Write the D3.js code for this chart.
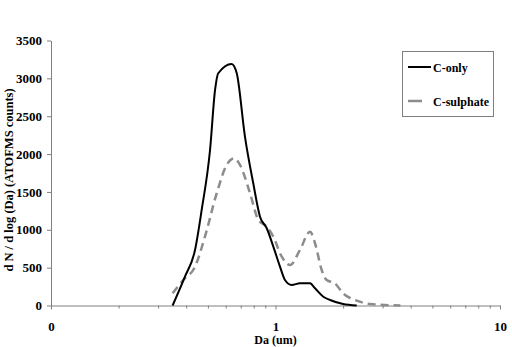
<!DOCTYPE html>
<html>
<head>
<meta charset="utf-8">
<script src="https://cdn.jsdelivr.net/npm/d3@7"></script>
<style>
  body { margin: 0; background: #fff; }
  svg text { font-family: "Liberation Serif", "Times New Roman", serif; font-weight: bold; }
  .axis path, .axis line { stroke: #808080; }
  .axis text { font-size: 13px; fill: #000; }
</style>
</head>
<body>
<svg id="chart" width="512" height="347"></svg>
<script>
// size distribution (Da in um, counts)
const onlyDa  = [0.348, 0.395, 0.438, 0.469, 0.511, 0.538, 0.556, 0.638, 0.672, 0.731, 0.796, 0.853, 0.914, 0.978, 1.047, 1.102, 1.18, 1.285, 1.425, 1.5, 1.633, 1.75, 2.0, 2.3];
const onlyVal = [0, 380, 733, 1262, 2054, 2847, 3067, 3190, 3067, 2230, 1614, 1173, 1020, 777, 513, 337, 271, 293, 293, 227, 116, 73, 20, 0];

const sulDa  = [0.348, 0.388, 0.438, 0.485, 0.547, 0.606, 0.653, 0.695, 0.770, 0.839, 0.914, 0.978, 1.066, 1.161, 1.285, 1.425, 1.5, 1.606, 1.69, 1.84, 2.0, 2.3, 2.64, 3.6];
const sulVal = [161, 337, 513, 909, 1482, 1856, 1944, 1856, 1482, 1129, 1041, 909, 645, 535, 733, 975, 822, 469, 337, 293, 161, 64, 20, 0];

const yTicks = [0, 500, 1000, 1500, 2000, 2500, 3000, 3500];
const xMajor = [0.1, 1, 10];
const xMajorLabels = ["0", "1", "10"];

const svg = d3.select("#chart");
const plotL = 51, plotR = 500, plotT = 40.5, plotB = 305.5;

const x = d3.scaleLog().domain([0.1, 10]).range([plotL, plotR]);
const y = d3.scaleLinear().domain([0, 3500]).range([plotB, plotT]);

// minor ticks at every integer step within each decade
const xMinor = [];
[0.1, 1].forEach(d => { for (let k = 2; k <= 9; k++) xMinor.push(d * k); });

svg.append("g").attr("class", "axis")
  .attr("transform", `translate(0,${plotB})`)
  .call(d3.axisBottom(x).tickValues(xMinor).tickSize(3).tickFormat("").tickSizeOuter(0))
  .call(g => g.select(".domain").remove());

svg.append("g").attr("class", "axis")
  .attr("transform", `translate(0,${plotB})`)
  .call(d3.axisBottom(x).tickValues(xMajor).tickSize(4).tickSizeOuter(0)
    .tickFormat((d, i) => xMajorLabels[i]))
  .call(g => g.selectAll("text").attr("y", 25.5).attr("dy", null));

svg.append("g").attr("class", "axis")
  .attr("transform", `translate(${plotL},0)`)
  .call(d3.axisLeft(y).tickValues(yTicks).tickSize(4).tickSizeOuter(0).tickFormat(d3.format("d")))
  .call(g => g.selectAll("text").attr("x", -9));

svg.append("text")
  .attr("x", (plotL + plotR) / 2).attr("y", 344)
  .attr("text-anchor", "middle").attr("font-size", 12)
  .text("Da (um)");

svg.append("text")
  .attr("transform", "rotate(-90)")
  .attr("x", -180).attr("y", 13)
  .attr("text-anchor", "middle").attr("font-size", 12.5)
  .text("d N / d log (Da) (ATOFMS counts)");

const line = d3.line().x(d => x(d[0])).y(d => y(d[1])).curve(d3.curveMonotoneX);

svg.append("path")
  .datum(sulDa.map((d, i) => [d, sulVal[i]]))
  .attr("d", line)
  .attr("fill", "none").attr("stroke", "#8c8c8c")
  .attr("stroke-width", 2.5).attr("stroke-dasharray", "8,5");

svg.append("path")
  .datum(onlyDa.map((d, i) => [d, onlyVal[i]]))
  .attr("d", line)
  .attr("fill", "none").attr("stroke", "#000")
  .attr("stroke-width", 2);

// legend
const lg = svg.append("g");
lg.append("rect")
  .attr("x", 402.5).attr("y", 51.5).attr("width", 91).attr("height", 65)
  .attr("fill", "#fff").attr("stroke", "#808080");
const legendItems = [
  { name: "C-only", color: "#000", dash: null, width: 2, x2: 431 },
  { name: "C-sulphate", color: "#8c8c8c", dash: null, width: 2.5, x2: 422 }
];
legendItems.forEach((it, i) => {
  const yy = 67 + i * 34;
  lg.append("line")
    .attr("x1", 408).attr("x2", it.x2).attr("y1", yy).attr("y2", yy)
    .attr("stroke", it.color).attr("stroke-width", it.width)
    .attr("stroke-dasharray", it.dash);
  lg.append("text")
    .attr("x", 433).attr("y", yy + 5)
    .attr("font-size", 12).text(it.name);
});
</script>
</body>
</html>
